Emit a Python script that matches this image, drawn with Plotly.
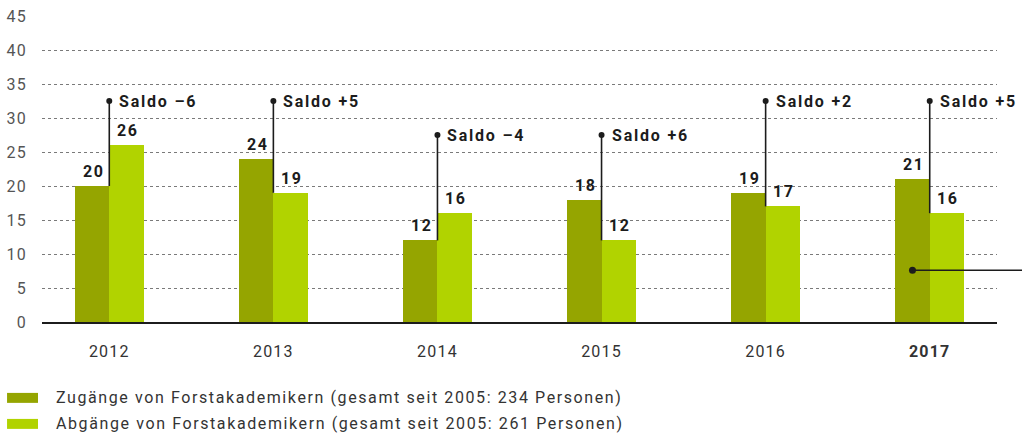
import plotly.graph_objects as go

# Data
years = ["2012", "2013", "2014", "2015", "2016", "2017"]
zugaenge = [20, 24, 12, 18, 19, 21]
abgaenge = [26, 19, 16, 12, 17, 16]
saldo_labels = ["Saldo –6", "Saldo +5", "Saldo –4", "Saldo +6", "Saldo +2", "Saldo +5"]
saldo_heights = [32.5, 32.5, 27.5, 27.5, 32.5, 32.5]
y_ticks = [0, 5, 10, 15, 20, 25, 30, 35, 40, 45]
legend_texts = [
    "Zugänge von Forstakademikern (gesamt seit 2005: 234 Personen)",
    "Abgänge von Forstakademikern (gesamt seit 2005: 261 Personen)",
]

DARK = "#95a500"
LIGHT = "#b1d300"
INK = "#1c1c1c"
FONT = "Roboto"
BAR_W = 0.21


def spaced(txt, px, bold=False):
    s = f'<span style="letter-spacing:{px}px">{txt}</span>'
    return f"<b>{s}</b>" if bold else s


xs = list(range(len(years)))

fig = go.Figure()

fig.add_trace(go.Bar(x=xs, y=zugaenge, width=BAR_W, offset=-BAR_W,
                     marker=dict(color=DARK, line=dict(width=0)),
                     name=legend_texts[0], showlegend=False))
fig.add_trace(go.Bar(x=xs, y=abgaenge, width=BAR_W, offset=0,
                     marker=dict(color=LIGHT, line=dict(width=0)),
                     name=legend_texts[1], showlegend=False))

annotations = []

# value labels above each bar
for i in xs:
    for val, xc in ((zugaenge[i], i - BAR_W / 2), (abgaenge[i], i + BAR_W / 2)):
        annotations.append(dict(x=xc, y=val, text=spaced(val, 1.5, bold=True),
                                showarrow=False, yanchor="bottom", yshift=3, xshift=1,
                                font=dict(family=FONT, size=16, color=INK)))

# saldo leader lines with dot and label
for i in xs:
    low = min(zugaenge[i], abgaenge[i])
    fig.add_trace(go.Scatter(x=[i, i], y=[low, saldo_heights[i]], mode="lines",
                             line=dict(color=INK, width=1.6), showlegend=False,
                             hoverinfo="skip", cliponaxis=False))
    fig.add_trace(go.Scatter(x=[i], y=[saldo_heights[i]], mode="markers",
                             marker=dict(color=INK, size=6), showlegend=False,
                             hoverinfo="skip", cliponaxis=False))
    annotations.append(dict(x=i, y=saldo_heights[i], text=spaced(saldo_labels[i], 1.8, bold=True),
                            showarrow=False, xanchor="left", xshift=8,
                            font=dict(family=FONT, size=16, color=INK)))

# pointer from the last year's bar out to the right edge
fig.add_shape(type="line", xref="paper", yref="y", x0=(xs[-1] - BAR_W / 2 + 0.41) / 5.82,
              y0=7.6, x1=1.03, y1=7.6, line=dict(color=INK, width=1.6))
fig.add_trace(go.Scatter(x=[xs[-1] - BAR_W / 2], y=[7.6], mode="markers",
                         marker=dict(color=INK, size=7), showlegend=False,
                         hoverinfo="skip", cliponaxis=False))

# legend drawn beneath the chart
for k, (txt, col) in enumerate(zip(legend_texts, [DARK, LIGHT])):
    yc = -0.248 - k * 0.085
    fig.add_shape(type="rect", xref="paper", yref="paper",
                  x0=-0.0366, x1=-0.0042, y0=yc - 0.0163, y1=yc + 0.0163,
                  fillcolor=col, line=dict(width=0))
    annotations.append(dict(xref="paper", yref="paper", x=0.0125, y=yc, text=spaced(txt, 1.6),
                            showarrow=False, xanchor="left", yanchor="middle",
                            font=dict(family=FONT, size=16, color="#333333")))

fig.update_layout(
    width=1022, height=436,
    margin=dict(l=42, r=25, t=16, b=114, autoexpand=False),
    plot_bgcolor="white", paper_bgcolor="white",
    bargap=0, barmode="overlay",
    annotations=annotations,
    font=dict(family=FONT, color="#444444"),
)

fig.update_xaxes(
    range=[-0.41, 5.41], tickmode="array", tickvals=xs,
    ticktext=[spaced(y, 1.2, bold=(y == "2017")) for y in years],
    tickfont=dict(family=FONT, size=16, color="#333333"),
    showgrid=False, zeroline=False, showline=True, linecolor=INK, linewidth=1.6,
    ticks="", ticklabelstandoff=14, automargin=False,
)
fig.update_yaxes(
    range=[0, 45], tickmode="array", tickvals=y_ticks,
    ticktext=[spaced(t, 1.2) for t in y_ticks],
    tickfont=dict(family=FONT, size=16, color="#555555"),
    showgrid=True, gridcolor="#7a7a7a", griddash="3px,3px", gridwidth=1,
    zeroline=False, showline=False, ticks="", ticklabelstandoff=14,
    automargin=False,
)

fig.write_html("out.html")
